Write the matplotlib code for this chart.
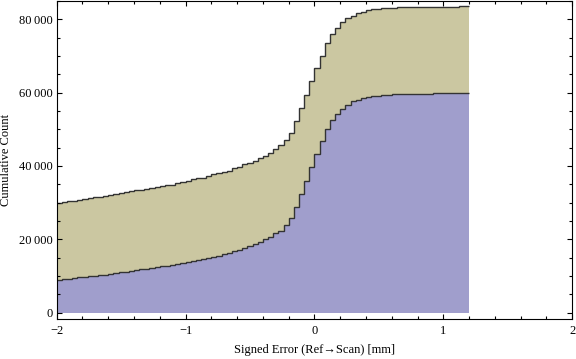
import numpy as np
import matplotlib
matplotlib.use("Agg")
import matplotlib.pyplot as plt
from matplotlib.ticker import FuncFormatter, MultipleLocator

# cumulative histogram, 80 bins of 0.04 mm from -2 to 1.2
bin_lo = -2.0
bin_hi = 1.2
n_bins = 80

# lower (blue) data set, cumulative count per bin
blue_cum = [8900, 9100, 9300, 9500, 9650, 9800, 9950, 10100, 10250, 10400,
            10600, 10800, 11000, 11200, 11400, 11600, 11800, 12000, 12200, 12450,
            12650, 12850, 13100, 13350, 13600, 13850, 14100, 14350, 14560, 14920,
            15190, 15470, 16010, 16290, 16740, 17100, 17650, 18100, 18830, 19290,
            20020, 20740, 21650, 22380, 23930, 25740, 28740, 32400, 35900, 39600,
            43210, 46760, 50070, 52530, 54120, 55490, 56580, 57650, 58100, 58500,
            58900, 59200, 59200, 59380, 59380, 59570, 59570, 59570, 59570, 59570,
            59570, 59570, 59570, 59840, 59840, 59840, 59840, 59840, 59840, 59840]

# top of the stack (blue + olive), cumulative count per bin
stack_top = [30000, 30100, 30350, 30450, 30700, 30950, 31200, 31450, 31600, 31850,
             32100, 32350, 32600, 32850, 33100, 33350, 33500, 33750, 34000, 34250,
             34450, 34700, 34950, 35300, 35650, 35930, 36380, 36660, 36840, 37290,
             37750, 38020, 38470, 38750, 39390, 39840, 40470, 40930, 41470, 42290,
             42840, 43480, 44520, 45660, 47020, 48930, 52210, 55760, 59300, 63200,
             66670, 70110, 73490, 76030, 77750, 79160, 80310, 80940, 81670, 81940,
             82490, 82770, 82770, 83040, 83040, 83040, 83310, 83310, 83310, 83310,
             83310, 83310, 83310, 83310, 83310, 83310, 83310, 83310, 83590, 83590]

x_ticks = [-2, -1, 0, 1, 2]
y_ticks = [0, 20000, 40000, 60000, 80000]

blue = "#a09ecc"
olive = "#cbc7a1"
edge = "#333333"

plt.rcParams["font.family"] = ["Liberation Serif", "DejaVu Serif"]
plt.rcParams["font.size"] = 9

fig = plt.figure(figsize=(5.76, 3.59), dpi=100)
ax = fig.add_axes([0.0984, 0.1128, 0.895, 0.8844])

edges = np.linspace(bin_lo, bin_hi, n_bins + 1)
ax.stairs(blue_cum, edges, baseline=0, fill=True, color=blue, lw=0)
ax.stairs(stack_top, edges, baseline=blue_cum, fill=True, color=olive, lw=0)
ax.stairs(blue_cum, edges, baseline=None, color=edge, lw=1.0)
ax.stairs(stack_top, edges, baseline=None, color=edge, lw=1.0)

ax.set_xlim(-2, 2)
ax.set_ylim(-1600, 85000)
ax.set_xticks(x_ticks)
ax.set_yticks(y_ticks)
ax.xaxis.set_minor_locator(MultipleLocator(0.2))
ax.yaxis.set_minor_locator(MultipleLocator(5000))


def fmt_y(v, pos):
    s = f"{int(round(v)):,}"
    return s.replace(",", "\u2009")


ax.yaxis.set_major_formatter(FuncFormatter(fmt_y))
ax.tick_params(which="both", direction="in", top=True, right=True,
               width=0.8, colors="black")
ax.tick_params(which="major", length=3.6)
ax.tick_params(which="minor", length=2.2)
ax.tick_params(axis="x", which="major", pad=5)
ax.tick_params(axis="y", which="major", pad=3)
for sp in ax.spines.values():
    sp.set_linewidth(0.8)

ax.set_xlabel("Signed Error (Ref\u2192Scan) [mm]", labelpad=5)
ax.set_ylabel("Cumulative Count", labelpad=5)

fig.savefig("out.png", dpi=100)
